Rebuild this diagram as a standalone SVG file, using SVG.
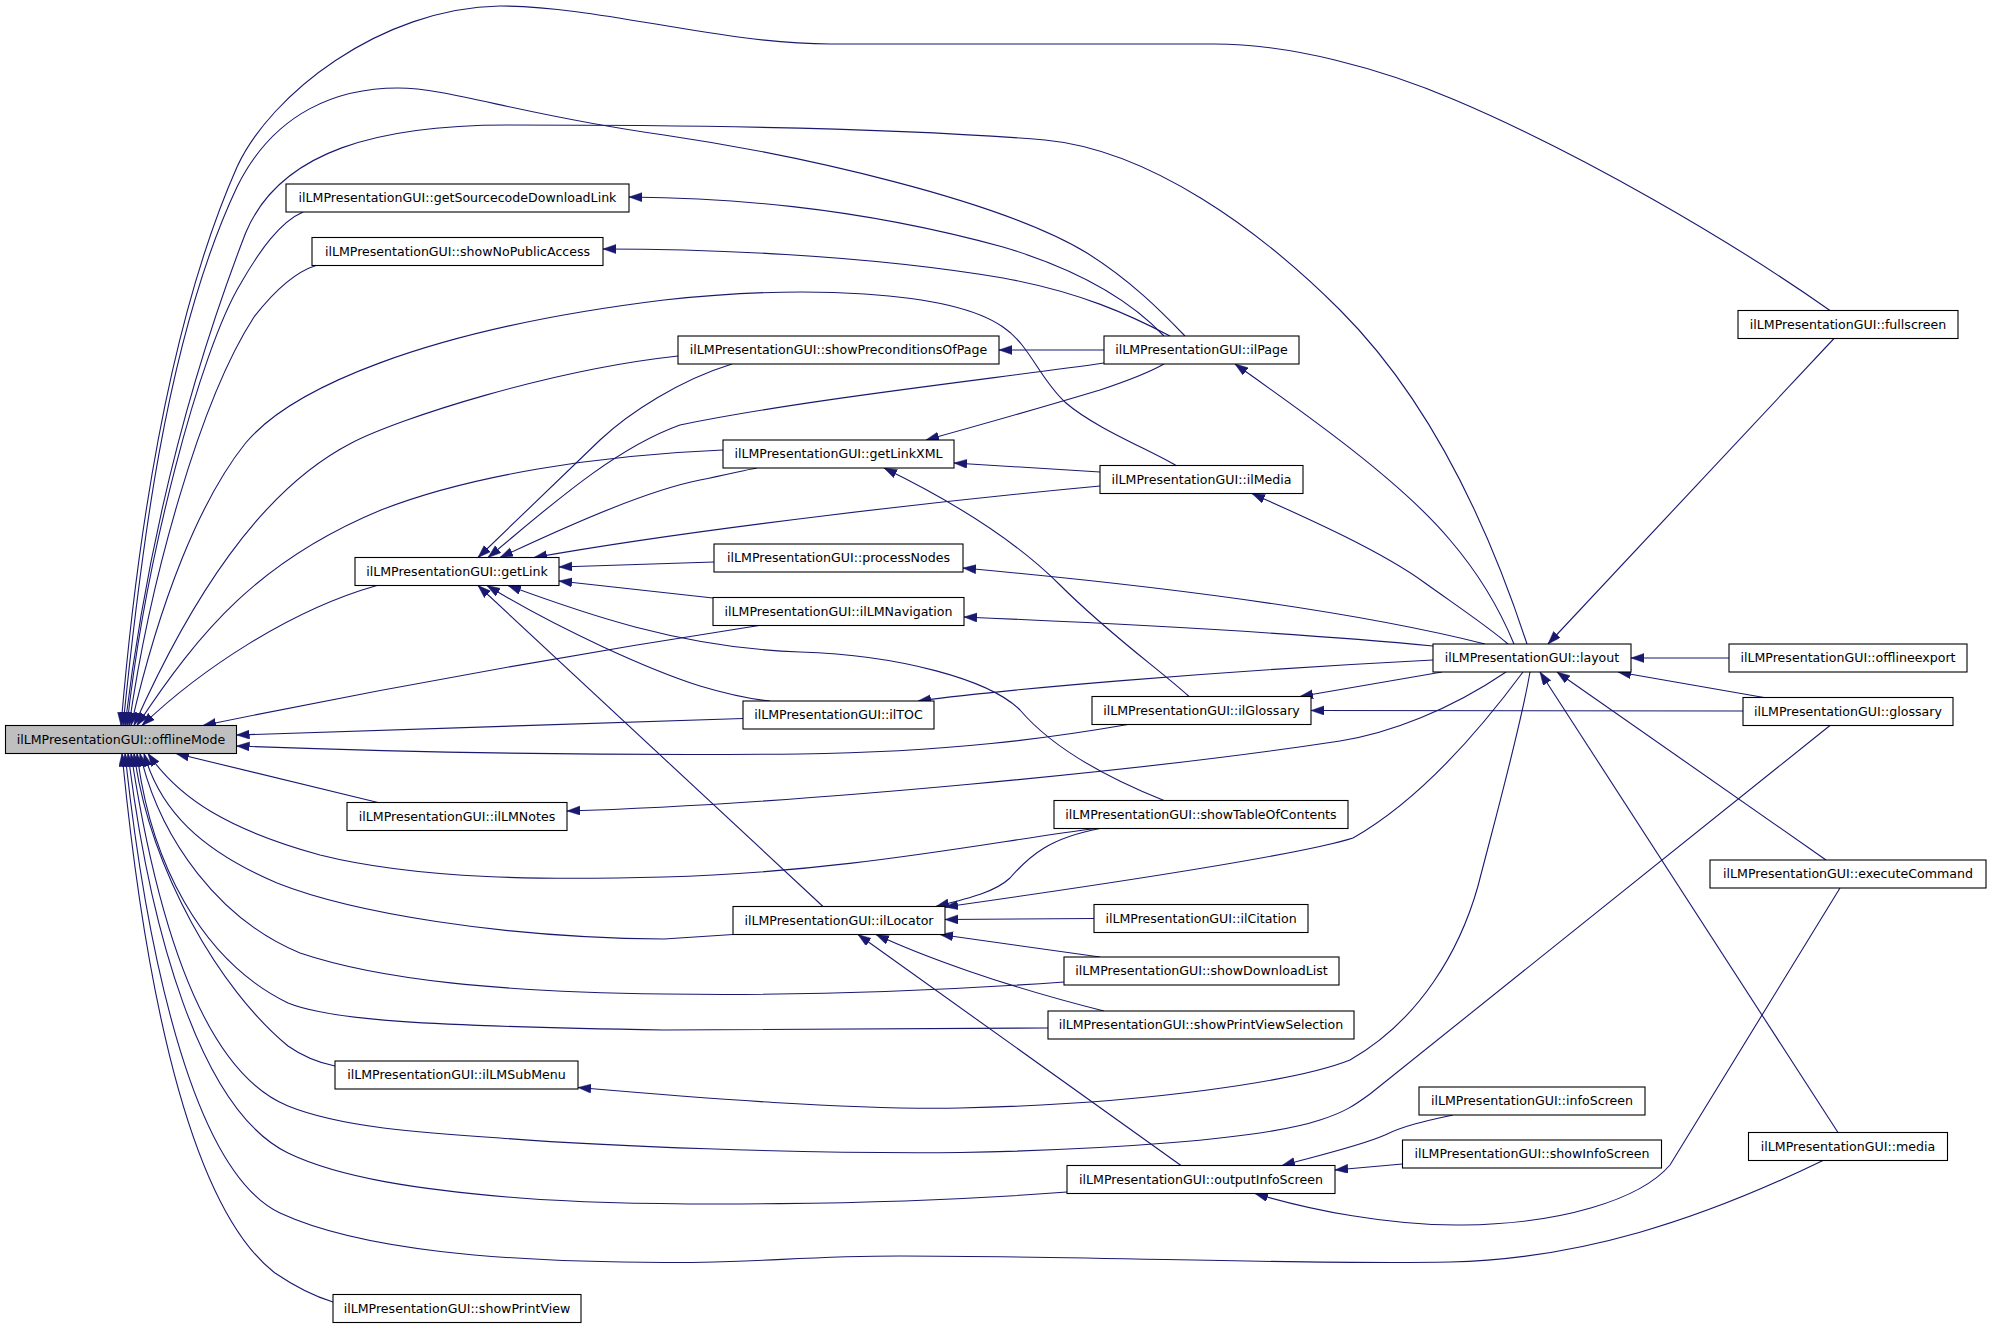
<svg xmlns="http://www.w3.org/2000/svg" width="1992" height="1329" viewBox="0 0 1992 1329">
<defs>
<marker id="a" markerUnits="userSpaceOnUse" markerWidth="14" markerHeight="10" refX="13" refY="4.5" orient="auto-start-reverse">
<path d="M0,0 L13,4.5 L0,9 z" fill="#191970" stroke="#191970" stroke-width="0.5"/>
</marker>
</defs>
<style>
.n rect{fill:#ffffff;stroke:#000000;stroke-width:1.1}
.n.hl rect{fill:#bfbfbf}
.n text{font-family:"DejaVu Sans","Liberation Sans",sans-serif;font-size:12.6px;fill:#000000;text-anchor:middle}
#edges path{fill:none;stroke:#191970;stroke-width:1.1;marker-start:url(#a)}
</style>
<rect width="1992" height="1329" fill="#ffffff"/>
<g id="edges">
<path d="M 121,725.5 C 135,560 165,330 237,167 C 270,95 380,8 500,6 C 600,6 720,44 830,44 L 1214,44 C 1290,44 1380,68 1455,100 C 1580,153 1730,240 1830,310.5"/>
<path d="M 123,725.5 C 140,560 165,340 237,187 C 275,110 340,88 398,88 C 450,88 520,115 664,135 C 800,155 1000,200 1087,253 C 1130,280 1160,310 1185,336"/>
<path d="M 125,725.5 C 145,560 185,390 245.6,233 C 280,150 380,125 508,125 C 700,125 900,128 1045,140 C 1150,150 1260,230 1340,310 C 1400,370 1470,470 1527,644"/>
<path d="M 127,725.5 C 145,560 200,350 241,283 C 260,250 280,222 303,212"/>
<path d="M 129,725.5 C 150,580 200,400 254,317 C 275,290 295,272 316,265.5"/>
<path d="M 131,725.5 C 160,600 200,500 245.6,443 C 290,390 420,330 664,300 C 800,285 950,290 1003,327 C 1030,345 1040,380 1066,403 C 1095,428 1150,450 1176,465.5"/>
<path d="M 134,725.5 C 190,600 260,490 351.5,443 C 400,418 550,370 678,356"/>
<path d="M 137,725.5 C 200,630 260,560 381,510 C 470,475 600,455 723,450"/>
<path d="M 142,725.5 C 200,670 290,610 377,585.5"/>
<path d="M 203,725.5 C 400,685 600,650 759,625.5"/>
<path d="M 236.5,735 L 743,718.5"/>
<path d="M 236.5,746 C 400,752 600,756 800,754 C 950,752 1050,738 1128,724.5"/>
<path d="M 176,753.5 L 378,802.5"/>
<path d="M 148,753.5 C 180,800 230,830 320,855 C 420,880 550,880 664,877 C 850,872 1000,840 1096,828.5"/>
<path d="M 144,753.5 C 160,810 200,850 277,883 C 350,912 500,938 664,939 L 733,934.5"/>
<path d="M 140,753.5 C 160,840 220,920 300,953 C 380,980 500,992 664,994 C 800,996 950,990 1064,982"/>
<path d="M 137,753.5 C 150,860 200,960 288,1003 C 330,1020 420,1026 664,1030 L 1048,1028"/>
<path d="M 134,753.5 C 150,870 220,990 288,1046 C 305,1058 320,1063 335,1066"/>
<path d="M 131,753.5 C 155,910 200,1070 288,1106 C 340,1127 420,1133 500,1138 C 600,1146 800,1154 960,1152.5 C 1100,1150 1260,1140 1320,1120 C 1345,1112 1355,1105 1370,1094 L 1830,725.5"/>
<path d="M 128,753.5 C 150,930 200,1110 288,1153 C 340,1178 420,1190 520,1198 C 650,1208 900,1205 1067,1192"/>
<path d="M 125,753.5 C 145,940 190,1170 280,1213 C 360,1250 500,1262 664,1262.5 C 760,1263 800,1256 900,1256 C 1100,1256 1300,1265 1450,1262 C 1580,1259 1700,1220 1823,1160.5"/>
<path d="M 122,753.5 C 140,940 180,1200 275,1273 C 300,1290 320,1298 333,1302"/>
<path d="M 629,197 C 720,198 850,205 1003,247 C 1080,270 1130,300 1164,336"/>
<path d="M 603,249 C 700,249 860,254 1003,278 C 1080,292 1130,315 1170,336"/>
<path d="M 999,350 L 1104,350"/>
<path d="M 488,557.5 C 540,515 610,450 680,425 C 800,400 1000,378 1104,363"/>
<path d="M 478,557.5 L 600,440 C 630,412 680,380 732,364"/>
<path d="M 500,557.5 C 580,520 650,490 700,480 C 730,474 745,470 757,468"/>
<path d="M 534,557.5 C 700,528 950,500 1100,486"/>
<path d="M 559,567 L 714,562"/>
<path d="M 559,581 L 713,598"/>
<path d="M 487,585.5 C 560,630 650,670 700,686 C 730,695 750,699 770,701"/>
<path d="M 508,585.5 C 580,612 680,648 800,652 C 900,655 990,680 1020,710 C 1050,745 1100,775 1164,800.5"/>
<path d="M 478,585.5 L 823,906.5"/>
<path d="M 926,440 C 980,425 1050,405 1100,390 C 1130,380 1150,372 1164,364"/>
<path d="M 954,463 L 1100,472"/>
<path d="M 884,468 C 960,505 1020,545 1060,585 C 1110,635 1160,670 1189,696.5"/>
<path d="M 1235,364 C 1300,410 1400,480 1450,540 C 1480,575 1500,610 1514,644"/>
<path d="M 1252,493.5 C 1300,515 1380,550 1425,583 C 1460,608 1490,628 1508,644"/>
<path d="M 963,568 C 1150,585 1350,610 1485,644"/>
<path d="M 964,617 C 1150,625 1300,633 1433,646"/>
<path d="M 918,701 C 1000,690 1200,672 1433,660"/>
<path d="M 1300,696.5 L 1442,672"/>
<path d="M 1311,710.5 L 1743,711"/>
<path d="M 567,811 C 800,804 1150,770 1340,741 C 1390,733 1450,710 1506,672"/>
<path d="M 945,907 C 1100,885 1300,855 1353,838 C 1420,800 1480,730 1523,672"/>
<path d="M 578,1087.5 C 700,1098 850,1110 960,1108 C 1150,1104 1300,1080 1350,1060 C 1420,1020 1460,950 1478,886 C 1495,820 1520,730 1530,672"/>
<path d="M 1548,644 L 1834,338.5"/>
<path d="M 1631,658 L 1729,658"/>
<path d="M 1618,672 L 1764,697.5"/>
<path d="M 1557,672 L 1826,860"/>
<path d="M 1540,672 L 1838,1132.5"/>
<path d="M 936,906.5 C 970,898 995,892 1010,878 C 1030,855 1050,838 1100,828.5"/>
<path d="M 945,919.5 L 1094,918.5"/>
<path d="M 940,934.5 L 1100,957"/>
<path d="M 876,934.5 C 920,955 1000,985 1104,1011"/>
<path d="M 858,934.5 L 1181,1165.5"/>
<path d="M 1282,1165.5 C 1320,1155 1360,1146 1385,1135 C 1405,1125 1430,1120 1453,1115"/>
<path d="M 1335,1170 L 1402.5,1164"/>
<path d="M 1255,1193.5 C 1310,1210 1390,1226 1463,1225 C 1560,1224 1640,1200 1670,1165 L 1840,888"/>
</g>
<g id="offlineMode" class="n hl"><rect x="5.5" y="725.5" width="231" height="28"/><text x="121" y="743.5">ilLMPresentationGUI::offlineMode</text></g>
<g id="getSourcecodeDownloadLink" class="n"><rect x="286" y="184" width="343" height="28"/><text x="457.5" y="202">ilLMPresentationGUI::getSourcecodeDownloadLink</text></g>
<g id="showNoPublicAccess" class="n"><rect x="312" y="237.5" width="291" height="28"/><text x="457.5" y="255.5">ilLMPresentationGUI::showNoPublicAccess</text></g>
<g id="showPreconditionsOfPage" class="n"><rect x="678" y="336" width="321" height="28"/><text x="838.5" y="354">ilLMPresentationGUI::showPreconditionsOfPage</text></g>
<g id="ilPage" class="n"><rect x="1104" y="336" width="195" height="28"/><text x="1201.5" y="354">ilLMPresentationGUI::ilPage</text></g>
<g id="fullscreen" class="n"><rect x="1738" y="310.5" width="220" height="28"/><text x="1848" y="328.5">ilLMPresentationGUI::fullscreen</text></g>
<g id="getLinkXML" class="n"><rect x="723" y="440" width="231" height="28"/><text x="838.5" y="458">ilLMPresentationGUI::getLinkXML</text></g>
<g id="ilMedia" class="n"><rect x="1100" y="465.5" width="203" height="28"/><text x="1201.5" y="483.5">ilLMPresentationGUI::ilMedia</text></g>
<g id="getLink" class="n"><rect x="355" y="557.5" width="204" height="28"/><text x="457" y="575.5">ilLMPresentationGUI::getLink</text></g>
<g id="processNodes" class="n"><rect x="714" y="544" width="249" height="28"/><text x="838.5" y="562">ilLMPresentationGUI::processNodes</text></g>
<g id="ilLMNavigation" class="n"><rect x="713" y="597.5" width="251" height="28"/><text x="838.5" y="615.5">ilLMPresentationGUI::ilLMNavigation</text></g>
<g id="layout" class="n"><rect x="1433" y="644" width="198" height="28"/><text x="1532" y="662">ilLMPresentationGUI::layout</text></g>
<g id="offlineexport" class="n"><rect x="1729" y="644" width="238" height="28"/><text x="1848" y="662">ilLMPresentationGUI::offlineexport</text></g>
<g id="ilTOC" class="n"><rect x="743" y="701" width="191" height="28"/><text x="838.5" y="719">ilLMPresentationGUI::ilTOC</text></g>
<g id="ilGlossary" class="n"><rect x="1092" y="696.5" width="219" height="28"/><text x="1201.5" y="714.5">ilLMPresentationGUI::ilGlossary</text></g>
<g id="glossary" class="n"><rect x="1743" y="697.5" width="210" height="28"/><text x="1848" y="715.5">ilLMPresentationGUI::glossary</text></g>
<g id="ilLMNotes" class="n"><rect x="347" y="802.5" width="220" height="28"/><text x="457" y="820.5">ilLMPresentationGUI::ilLMNotes</text></g>
<g id="showTableOfContents" class="n"><rect x="1054" y="800.5" width="294" height="28"/><text x="1201" y="818.5">ilLMPresentationGUI::showTableOfContents</text></g>
<g id="executeCommand" class="n"><rect x="1710" y="860" width="276" height="28"/><text x="1848" y="878">ilLMPresentationGUI::executeCommand</text></g>
<g id="ilLocator" class="n"><rect x="733" y="906.5" width="212" height="28"/><text x="839" y="924.5">ilLMPresentationGUI::ilLocator</text></g>
<g id="ilCitation" class="n"><rect x="1094" y="904.5" width="214" height="28"/><text x="1201" y="922.5">ilLMPresentationGUI::ilCitation</text></g>
<g id="showDownloadList" class="n"><rect x="1064" y="957" width="275" height="28"/><text x="1201.5" y="975">ilLMPresentationGUI::showDownloadList</text></g>
<g id="showPrintViewSelection" class="n"><rect x="1048" y="1011" width="306" height="28"/><text x="1201" y="1029">ilLMPresentationGUI::showPrintViewSelection</text></g>
<g id="ilLMSubMenu" class="n"><rect x="335" y="1061" width="243" height="28"/><text x="456.5" y="1079">ilLMPresentationGUI::ilLMSubMenu</text></g>
<g id="infoScreen" class="n"><rect x="1419" y="1087" width="226" height="28"/><text x="1532" y="1105">ilLMPresentationGUI::infoScreen</text></g>
<g id="media" class="n"><rect x="1748.5" y="1132.5" width="199" height="28"/><text x="1848" y="1150.5">ilLMPresentationGUI::media</text></g>
<g id="showInfoScreen" class="n"><rect x="1402.5" y="1140" width="259" height="28"/><text x="1532" y="1158">ilLMPresentationGUI::showInfoScreen</text></g>
<g id="outputInfoScreen" class="n"><rect x="1067" y="1165.5" width="268" height="28"/><text x="1201" y="1183.5">ilLMPresentationGUI::outputInfoScreen</text></g>
<g id="showPrintView" class="n"><rect x="333" y="1294.5" width="248" height="28"/><text x="457" y="1312.5">ilLMPresentationGUI::showPrintView</text></g>
</svg>
